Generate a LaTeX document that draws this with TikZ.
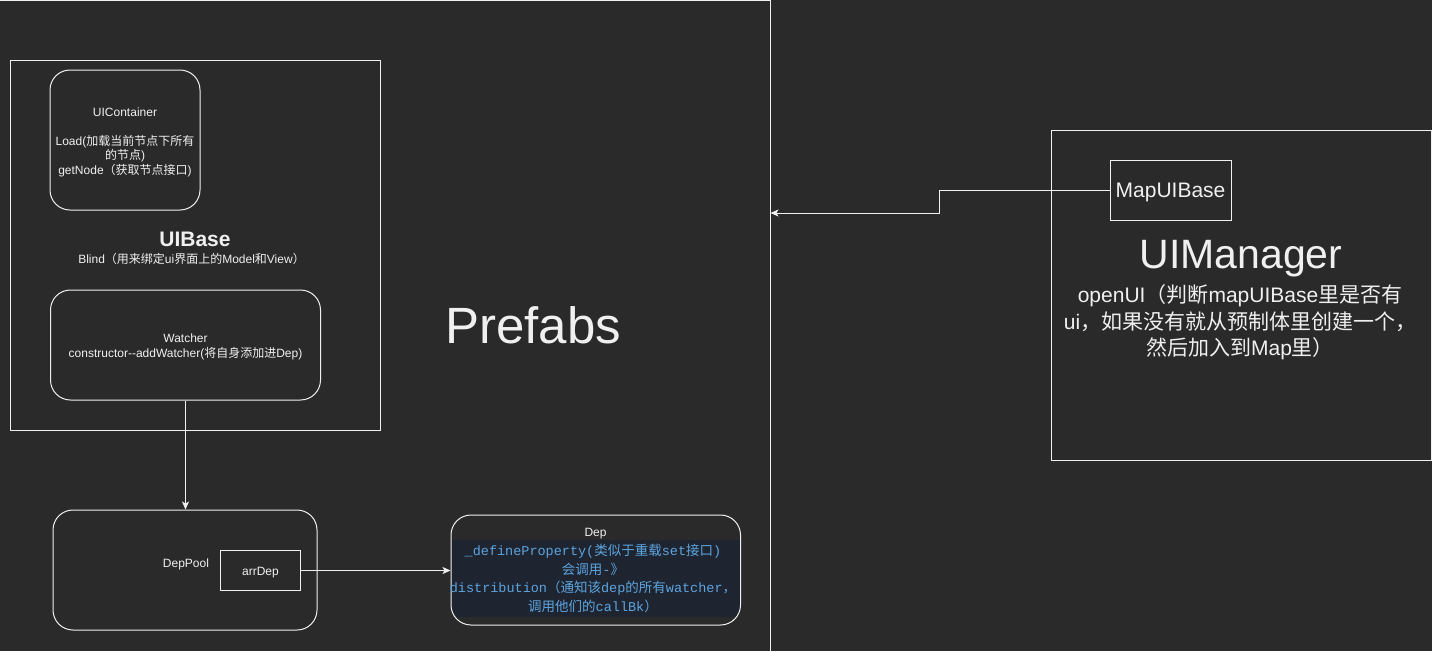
\documentclass[tikz,border=0pt]{standalone}
\usepackage{fontspec}
\setmainfont{Liberation Sans}
\newfontfamily\cjk{Noto Sans CJK SC}
\newfontfamily\monof{Liberation Mono}
\usetikzlibrary{arrows.meta}
\definecolor{bgc}{HTML}{2A2A2A}
\definecolor{lc}{HTML}{F0F0F0}
\definecolor{tc}{HTML}{F0F0F0}
\definecolor{codebg}{HTML}{1F2530}
\definecolor{codeblue}{HTML}{5CA4E0}
\newcommand\zhx[1]{{\cjk #1}}
\begin{document}
\begin{tikzpicture}[x=1pt,y=-1pt,
  ln/.style={draw=lc,line width=1pt},
  box/.style={ln,rectangle,inner sep=0pt,text=tc,align=center},
  rbox/.style={box,rounded corners=20pt},
  txt/.style={text=tc,inner sep=0pt,align=center},
  small/.style={font=\fontsize{12}{14.5}\selectfont},
  arr/.style={ln,-{Stealth[length=8pt,width=7pt,inset=2pt]}}]
\fill[bgc] (0,0) rectangle (1432,651);
\useasboundingbox (0,0) rectangle (1432,651);

% Prefabs frame (only top and right edges visible)
\draw[ln] (0,0.5) -- (770,0.5) -- (770,651);
\node[txt,font=\fontsize{51}{60}\selectfont] (prefabs) at (533,325) {Prefabs};
\coordinate (pin) at (770.5,213);

% UIBase
\node[box,minimum width=370pt,minimum height=370pt] (uibase) at (195,245) {};
\node[rbox,minimum width=150pt,minimum height=140pt] (uicont) at (125,140) {};
\node[txt,small] (uiconttext) at (125,142)
  {UIContainer\\[14.5pt]Load(\zhx{加载当前节点下所有}\\\zhx{的节点})\\getNode\zhx{（获取节点接口})};
\node[txt,font=\bfseries\fontsize{21}{24}\selectfont] (uibtitle) at (195,239) {UIBase};
\node[txt,small] (blind) at (191.5,259) {Blind\zhx{（用来绑定}ui\zhx{界面上的}Model\zhx{和}View\zhx{）}};
\node[rbox,minimum width=270pt,minimum height=110pt] (watcher) at (185.5,345) {};
\node[txt,small] (watchertext) at (185.5,347)
  {Watcher\\constructor-{}-addWatcher(\zhx{将自身添加进}Dep)};

% DepPool
\node[rbox,minimum width=264pt,minimum height=120pt] (deppool) at (185,570) {};
\node[txt,small] (deppoollbl) at (186,564) {DepPool};
\node[box,minimum width=80pt,minimum height=40pt] (arrdep) at (260.5,570.5) {};
\node[txt,small] (arrdeptext) at (260.5,572.5) {arrDep};

% Dep
\begin{scope}
  \clip[rounded corners=20pt] (451,515) rectangle (740.5,625);
  \fill[codebg] (451,540) rectangle (740.5,617);
\end{scope}
\node[rbox,minimum width=289.5pt,minimum height=110pt] (dep) at (595.75,570) {};
\node[txt,small] (deptitle) at (595.5,534) {Dep};
\node[txt,text=codeblue,font=\monof\fontsize{13.5}{18.7}\selectfont] (deptext) at (593,578.5)
  {\_defineProperty(\zhx{类似于重载}set\zhx{接口})\\
   \zhx{会调用}-\zhx{》}\\
   distribution\zhx{（通知该}dep\zhx{的所有}watcher\zhx{，}\\
   \zhx{调用他们的}callBk\zhx{）}};

% UIManager
\node[box,minimum width=380pt,minimum height=330pt] (uimgr) at (1241,295) {};
\node[box,minimum width=121pt,minimum height=60pt] (map) at (1170.5,190) {};
\node[txt,font=\fontsize{21}{24}\selectfont] (maptext) at (1170.5,192) {MapUIBase};
\node[txt,font=\fontsize{41}{48}\selectfont] (uimgrtitle) at (1241,259) {UIManager};
\node[txt,font=\fontsize{21}{26.5}\selectfont] (uimgrtext) at (1240,322.5)
  {openUI\zhx{（判断}mapUIBase\zhx{里是否有}\\
   ui\zhx{，如果没有就从预制体里创建一个，}\\
   \zhx{然后加入到}Map\zhx{里）}};

% connectors
\draw[arr] (watcher.south) -- (watcher.south |- deppool.north);
\draw[arr] (arrdep.east) -- (arrdep.east -| dep.west);
\draw[arr] (map.west) -- ++(-170,0) |- (pin);
\end{tikzpicture}
\end{document}
